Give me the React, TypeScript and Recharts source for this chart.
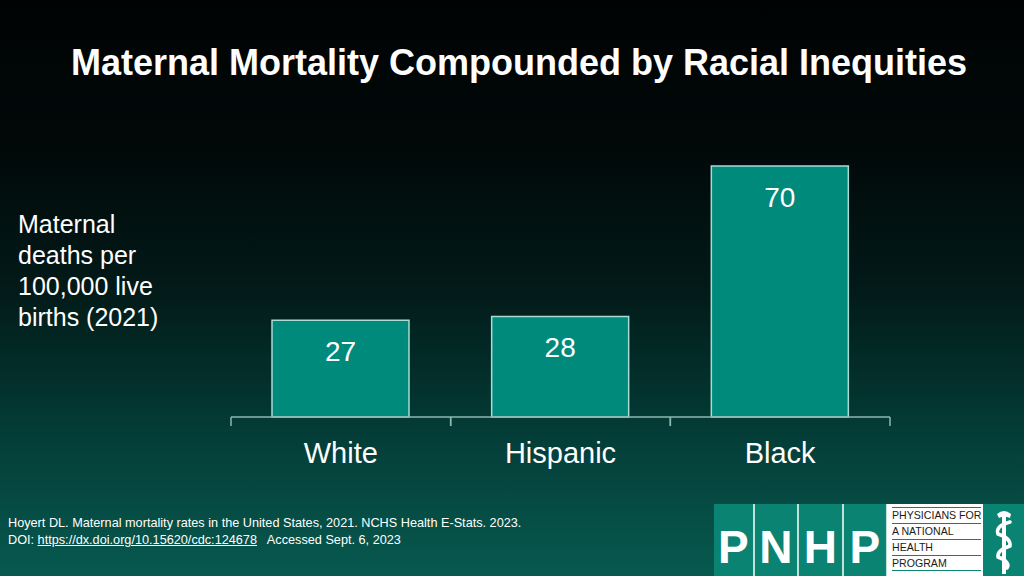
import React from 'react';
import { BarChart, Bar, XAxis, YAxis, LabelList } from 'recharts';

const groups = ['White', 'Hispanic', 'Black'];
const deaths = [27, 28, 70];
const yLabelLines = ['Maternal', 'deaths per', '100,000 live', 'births (2021)'];
const logoLetters = ['P', 'N', 'H', 'P'];
const logoWords = ['PHYSICIANS FOR', 'A NATIONAL', 'HEALTH', 'PROGRAM'];

const data = groups.map((g, i) => ({ group: g, value: deaths[i] }));

const W = 1024;
const H = 576;
const M = { top: 166, right: 134, bottom: 119, left: 231 };
const HALF_BAND = (W - M.left - M.right) / groups.length / 2;
const FONT = '"Liberation Sans", Arial, Helvetica, sans-serif';

function GroupTick(props: any) {
  const { x, y, payload } = props;
  return (
    <g>
      <line x1={x - HALF_BAND} x2={x - HALF_BAND} y1={y} y2={y + 9} stroke="#8db7b1" strokeWidth={1.5} />
      <line x1={x + HALF_BAND} x2={x + HALF_BAND} y1={y} y2={y + 9} stroke="#8db7b1" strokeWidth={1.5} />
      <text x={x} y={y + 36} dy="0.35em" textAnchor="middle" fill="#ffffff" fontSize={29} fontFamily={FONT}>
        {payload.value}
      </text>
    </g>
  );
}

function Logo() {
  return (
    <div style={{ position: 'absolute', left: 714, top: 504, width: 310, height: 72, display: 'flex', background: '#0a8373' }}>
      {logoLetters.map((l, i) => (
        <div
          key={i}
          style={{
            width: i === 0 ? 40 : 46,
            height: 72,
            borderLeft: i > 0 ? '2px solid #bfe3dc' : 'none',
            boxSizing: 'border-box',
            color: '#fff',
            fontWeight: 900,
            fontSize: 46,
            fontFamily: FONT,
            display: 'flex',
            alignItems: 'flex-end',
            justifyContent: 'center',
            paddingBottom: 2,
            background: '#0a8373',
          }}
        >
          {l}
        </div>
      ))}
      <div style={{ width: 98, height: 72, background: '#fff', boxSizing: 'border-box', padding: '3px 2px 0 5px', borderLeft: '1px solid #bfe3dc' }}>
        {logoWords.map((w, i) => (
          <div
            key={i}
            style={{
              fontSize: 10.6,
              lineHeight: '15px',
              height: 16,
              fontFamily: FONT,
              color: '#1a1a1a',
              borderTop: '1.5px solid #0a8373',
              borderBottom: i === logoWords.length - 1 ? '1.5px solid #0a8373' : 'none',
              boxSizing: 'border-box',
              whiteSpace: 'nowrap',
            }}
          >
            {w}
          </div>
        ))}
      </div>
      <svg width={42} height={72}>
        <rect x={19} y={8} width={4} height={62} fill="#fff" />
        <path d="M14 10 Q21 4 28 10 L27 14 Q21 11 16 14 Z" fill="#fff" />
        <path
          d="M27 18 Q12 22 15 30 Q28 34 27 42 Q14 46 15 53 Q28 58 24 64"
          fill="none"
          stroke="#fff"
          strokeWidth={3.5}
          strokeLinecap="round"
        />
      </svg>
    </div>
  );
}

export default function App() {
  return (
    <div
      style={{
        position: 'absolute',
        left: 0,
        top: 0,
        width: W,
        height: H,
        overflow: 'hidden',
        background: 'linear-gradient(to bottom, #000304 0%, #010808 25%, #021a18 50%, #04403a 78%, #07594f 100%)',
        fontFamily: FONT,
      }}
    >
      <div style={{ position: 'absolute', top: 41, left: 0, width: 1038, textAlign: 'center', color: '#fff', fontSize: 36, fontWeight: 'bold', lineHeight: '44px' }}>
        Maternal Mortality Compounded by Racial Inequities
      </div>

      <div style={{ position: 'absolute', left: 18, top: 209, color: '#fff', fontSize: 25, lineHeight: '31px' }}>
        {yLabelLines.map((l) => (
          <div key={l}>{l}</div>
        ))}
      </div>

      <div style={{ position: 'absolute', left: 0, top: 0 }}>
        <BarChart width={W} height={H} data={data} margin={M} barSize={137}>
          <YAxis hide domain={[0, 70]} />
          <XAxis
            dataKey="group"
            height={40}
            tickSize={0}
            tickMargin={0}
            tickLine={false}
            axisLine={{ stroke: '#8db7b1', strokeWidth: 1.5 }}
            tick={<GroupTick />}
            interval={0}
          />
          <Bar dataKey="value" fill="#008a7b" stroke="#a9dcd5" strokeWidth={1.5} isAnimationActive={false}>
            <LabelList dataKey="value" position="insideTop" offset={21} fill="#ffffff" fontSize={28} fontFamily={FONT} />
          </Bar>
        </BarChart>
      </div>

      <div style={{ position: 'absolute', left: 8, top: 515, color: '#fff', fontSize: 12.7, lineHeight: '17px' }}>
        <div>Hoyert DL. Maternal mortality rates in the United States, 2021. NCHS Health E-Stats. 2023.</div>
        <div>
          DOI: <span style={{ textDecoration: 'underline' }}>https://dx.doi.org/10.15620/cdc:124678</span>
          {'\u00a0\u00a0 Accessed Sept. 6, 2023'}
        </div>
      </div>

      <Logo />
    </div>
  );
}
